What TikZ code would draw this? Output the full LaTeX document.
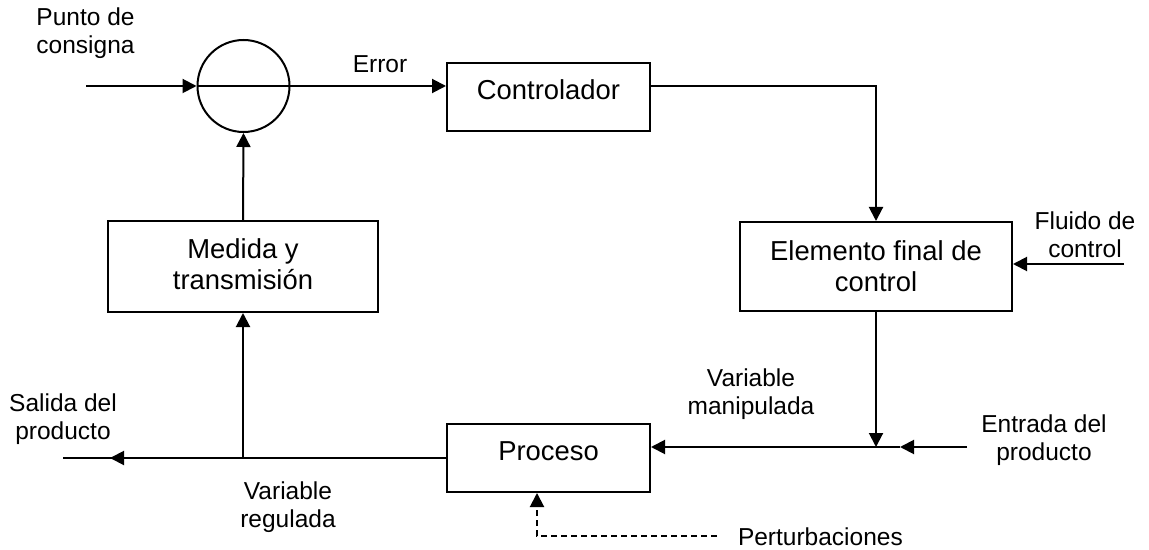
\documentclass[tikz,border=0pt]{standalone}
\usepackage{fontspec}
\setmainfont{Liberation Sans}
\usetikzlibrary{arrows.meta}
\begin{document}
\begin{tikzpicture}[x=0.5pt,y=-0.5pt,
  line width=1pt,
  tip/.style={-{Triangle[length=7pt,width=7pt]}},
  blk/.style={draw, rectangle, line width=1pt, inner sep=0pt},
  blktext/.style={font=\fontsize{13.7}{15.5}\selectfont, align=center, inner sep=0pt},
  lbl/.style={font=\fontsize{12.25}{14}\selectfont, align=center, inner sep=0pt},
  dist/.style={dash pattern=on 3pt off 2pt},
]
\useasboundingbox (0,0) rectangle (1149,550);

% summing junction and blocks
\node[draw, circle, line width=1pt, minimum size=46pt, inner sep=0pt] (sum) at (243.5,86) {};
\node[blk, minimum width=101.5pt, minimum height=34pt] (ctrl) at (548.5,97) {};
\node[blktext] (ctrltxt) at ([yshift=3.5pt]ctrl.center) {Controlador};
\node[blk, minimum width=135pt, minimum height=45.5pt] (meas) at (243,266.5) {};
\node[blktext] (meastxt) at ([yshift=1pt]meas.center) {Medida y\\transmisión};
\node[blk, minimum width=136pt, minimum height=44.5pt] (fce) at (876,266.5) {};
\node[blktext] (fcetxt) at (fce.center) {Elemento final de\\control};
\node[blk, minimum width=101.5pt, minimum height=34pt] (proc) at (548.5,458) {};
\node[blktext] (proctxt) at ([yshift=3.5pt]proc.center) {Proceso};

% free ends of the signal lines
\coordinate (sp) at (86,86);
\coordinate (fluid) at (1124,264);
\coordinate (join) at (876,447);
\coordinate (inlet) at (967,447);
\coordinate (inmid) at (900,447);
\coordinate (outend) at (63,458);
\coordinate (outmid) at (110,458);
\coordinate (pert) at (717,536);

% forward path
\draw[tip] (sp) -- (sum.west);
\draw[tip] (sum.west) -- (ctrl.west |- sum.west);
\draw[tip] (ctrl.east |- sum.west) -| (fce.north);
\draw[tip] (fluid) -- (fce.east |- fluid);
\draw[tip] (fce.south) -- (join);
\draw[tip] (inlet) -- (inmid);
\draw[tip] (inmid) -- (proc.east |- inlet);

% output and feedback path
\draw (proc.west) -- (outend);
\draw[tip] (meas.south |- proc.west) -- (outmid);
\draw[tip] (meas.south |- proc.west) -- (meas.south);
\draw[tip] (meas.north) -- (sum.south);

% disturbance
\draw[tip, dist] (pert) -| ([xshift=-5.75pt]proc.south);

% labels
\node[lbl] (lsp) at (85.5,33.5) {Punto de\\consigna};
\node[lbl] (lerr) at (380,64) {Error};
\node[lbl] (lfl) at (1085,235) {Fluido de\\control};
\node[lbl] (lout) at (63,419) {Salida del\\producto};
\node[lbl] (lreg) at (288,507) {Variable\\regulada};
\node[lbl] (lman) at (751,394) {Variable\\manipulada};
\node[lbl] (lin) at (1044,440) {Entrada del\\producto};
\node[lbl, anchor=west] (ldist) at (737,537) {Perturbaciones};
\end{tikzpicture}
\end{document}
